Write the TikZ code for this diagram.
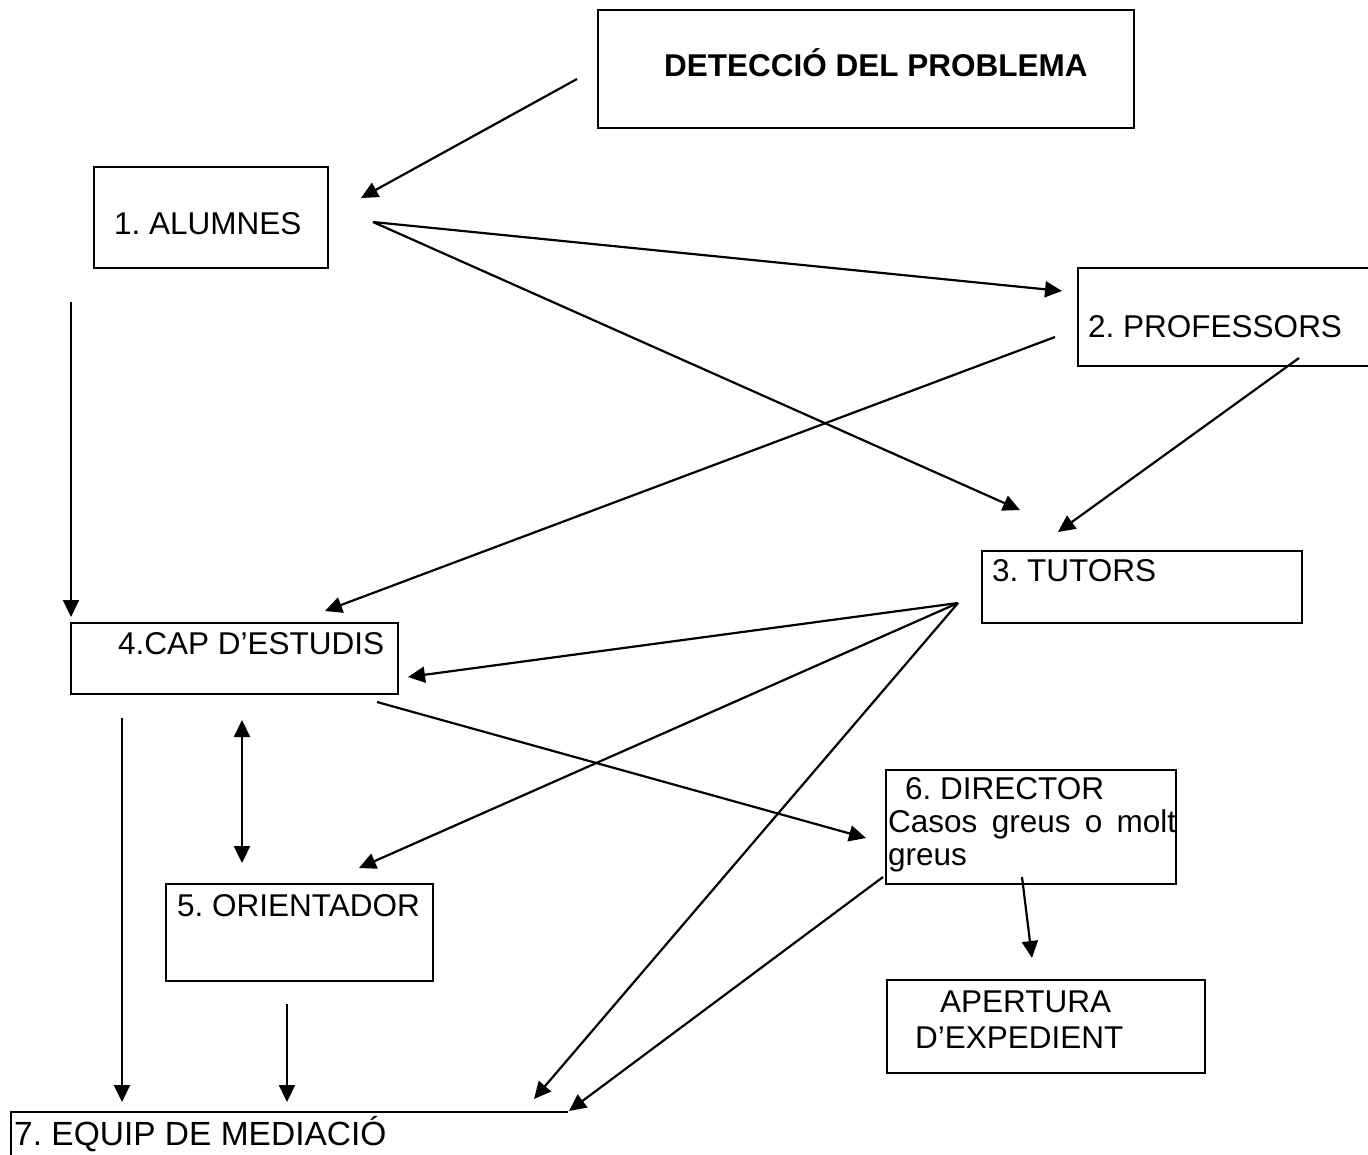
\documentclass[tikz,border=0pt]{standalone}
\usepackage{fontspec}
\setmainfont{Liberation Sans}
\usetikzlibrary{arrows.meta}
\frenchspacing
\tikzset{
  boxst/.style={draw=black, line width=2.8pt, inner sep=0pt},
  lbl/.style={anchor=base west, inner sep=0pt, font=\fontsize{31.5}{36}\selectfont},
  arr/.style={line width=2.2pt, -{Triangle[length=17pt,width=16pt]}},
  darr/.style={line width=2.2pt, {Triangle[length=17pt,width=16pt]}-{Triangle[length=17pt,width=16pt]}}
}
\begin{document}
\begin{tikzpicture}[x=1pt,y=-1pt]
\useasboundingbox (0,0) rectangle (1368,1154);
\begin{scope}
\clip (0,0) rectangle (1368,1154);
% boxes
\draw[boxst] (598,10) rectangle (1134,128) node[midway] (det) {};
\draw[boxst] (94,167) rectangle (328,268) node[midway] (alu) {};
\draw[boxst] (1078,268) rectangle (1380,366) node[midway] (pro) {};
\draw[boxst] (982,551) rectangle (1302,623) node[midway] (tut) {};
\draw[boxst] (71,623) rectangle (398,694) node[midway] (cap) {};
\draw[boxst] (886,770) rectangle (1176,884) node[midway] (dir) {};
\draw[boxst] (166,884) rectangle (433,981) node[midway] (ori) {};
\draw[boxst] (887,980) rectangle (1205,1073) node[midway] (ape) {};
\draw[boxst] (568,1112) -- (11,1112) -- (11,1170);
\coordinate (eqp) at (290,1112);
\end{scope}
% labels
\node[lbl, font=\fontsize{31.5}{36}\selectfont\bfseries] (tdet) at (664,76) {DETECCIÓ DEL PROBLEMA};
\node[lbl] (talu) at (114,234) {1. ALUMNES};
\node[lbl] (tpro) at (1088,337) {2. PROFESSORS};
\node[lbl] (ttut) at (992,581) {3. TUTORS};
\node[lbl] (tcap) at (118,654) {4.CAP D’ESTUDIS};
\node[lbl] (tdir) at (905,799) {6. DIRECTOR};
\node[lbl] (tdir2) at (888,832) {\hbox to 288pt{Casos\hfil greus\hfil o\hfil molt}};
\node[lbl] (tdir3) at (888,865) {greus};
\node[lbl] (tori) at (177,916) {5. ORIENTADOR};
\node[lbl] (tape) at (940,1012) {APERTURA};
\node[lbl] (tape2) at (915,1048) {D’EXPEDIENT};
\node[lbl, font=\fontsize{33.5}{38}\selectfont] (teqp) at (14,1145) {7. EQUIP DE MEDIACIÓ};
% connector endpoints
\coordinate (s1) at (577,79);   \coordinate (e1) at (361,198);
\coordinate (s2) at (373,222);  \coordinate (e2) at (1062,291);
\coordinate (e3) at (1020,510);
\coordinate (s4) at (71,302);   \coordinate (e4) at (71,617);
\coordinate (s5) at (1055,337); \coordinate (e5) at (325,611);
\coordinate (s6) at (1299,358); \coordinate (e6) at (1058,532);
\coordinate (s7) at (958,603);  \coordinate (e7) at (408,677);
\coordinate (e8) at (359,868);
\coordinate (e9) at (534,1099);
\coordinate (s10) at (377,702); \coordinate (e10) at (866,838);
\coordinate (s11) at (242,720); \coordinate (e11) at (242,863);
\coordinate (s12) at (122,718); \coordinate (e12) at (122,1102);
\coordinate (s13) at (287,1004);\coordinate (e13) at (287,1102);
\coordinate (s14) at (883,877); \coordinate (e14) at (569,1111);
\coordinate (s15) at (1022,877);\coordinate (e15) at (1032,958);
% connectors
\draw[arr] (s1) -- (e1);
\draw[arr] (s2) -- (e2);
\draw[arr] (s2) -- (e3);
\draw[arr] (s4) -- (e4);
\draw[arr] (s5) -- (e5);
\draw[arr] (s6) -- (e6);
\draw[arr] (s7) -- (e7);
\draw[arr] (s7) -- (e8);
\draw[arr] (s7) -- (e9);
\draw[arr] (s10) -- (e10);
\draw[darr] (s11) -- (e11);
\draw[arr] (s12) -- (e12);
\draw[arr] (s13) -- (e13);
\draw[arr] (s14) -- (e14);
\draw[arr] (s15) -- (e15);
\end{tikzpicture}
\end{document}
